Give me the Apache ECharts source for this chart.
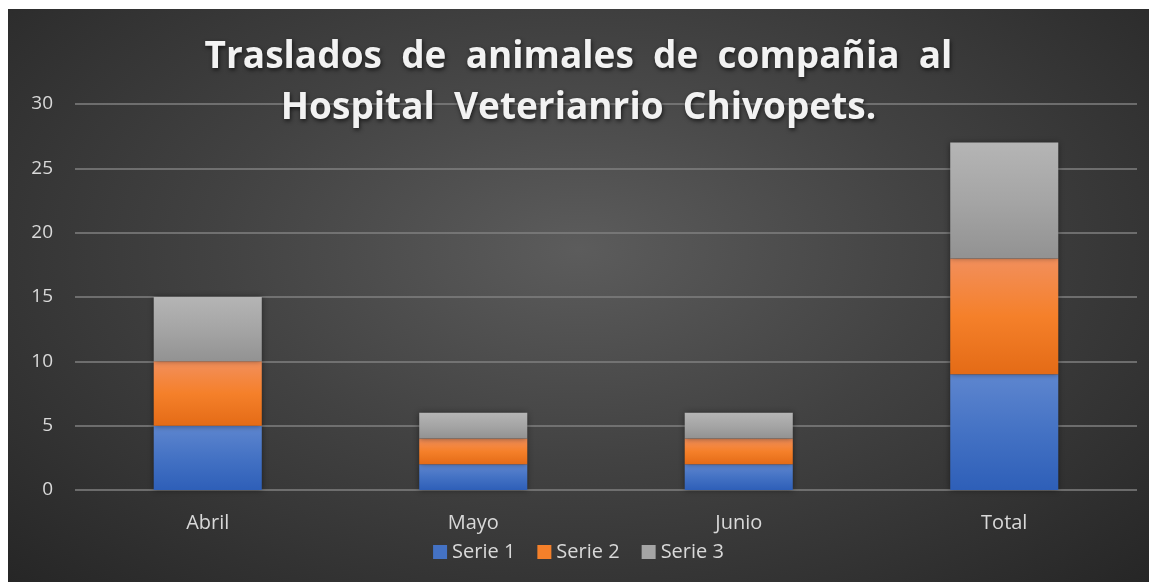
<!DOCTYPE html>
<html>
<head>
<meta charset="utf-8">
<script src="https://cdn.jsdelivr.net/npm/echarts@6/dist/echarts.min.js"></script>
<style>
  html, body { margin: 0; padding: 0; background: #ffffff; }
  #chart {
    position: absolute; left: 8px; top: 9px; width: 1141px; height: 573px;
    background: radial-gradient(ellipse at 50% 42%, #5c5c5c 0%, #424242 45%, #262626 100%);
  }
</style>
</head>
<body>
<div id="chart"></div>
<script>
// chart data
const categories = ['Abril', 'Mayo', 'Junio', 'Total'];
const serieNames = ['Serie 1', 'Serie 2', 'Serie 3'];
const serie1 = [5, 2, 2, 9];
const serie2 = [5, 2, 2, 9];
const serie3 = [5, 2, 2, 9];
const yTicks = [0, 5, 10, 15, 20, 25, 30];

const font = '"Open Sans", "Noto Sans", sans-serif';

function grad(top, mid, bottom) {
  return new echarts.graphic.LinearGradient(0, 0, 0, 1, [
    { offset: 0, color: top },
    { offset: 0.5, color: mid },
    { offset: 1, color: bottom }
  ]);
}

const fills = [
  grad('#5e86cf', '#4472c4', '#2e5fb8'),
  grad('#f28f5c', '#f5802a', '#e46b16'),
  grad('#b5b5b5', '#a5a5a5', '#929292')
];
const legendColors = ['#4472c4', '#f5802a', '#a5a5a5'];
const values = [serie1, serie2, serie3];

const chart = echarts.init(document.getElementById('chart'), null, { renderer: 'canvas' });

const option = {
  animation: false,
  title: {
    text: 'Traslados  de  animales  de  compañia  al\nHospital  Veterianrio  Chivopets.',
    left: 'center',
    top: 18,
    textStyle: {
      fontFamily: font,
      fontWeight: 'bold',
      fontSize: 37,
      lineHeight: 51,
      color: '#f2f2f2',
      textShadowColor: 'rgba(0,0,0,0.65)',
      textShadowBlur: 4,
      textShadowOffsetX: 1,
      textShadowOffsetY: 2
    }
  },
  legend: {
    data: serieNames.map((n, i) => ({ name: n, itemStyle: { color: legendColors[i] } })),
    bottom: 15,
    left: 'center',
    icon: 'rect',
    itemWidth: 14,
    itemHeight: 14,
    itemGap: 22,
    textStyle: { fontFamily: font, fontSize: 20, color: '#d9d9d9' }
  },
  grid: { left: 67, right: 12, top: 95, bottom: 92, containLabel: false },
  xAxis: {
    type: 'category',
    data: categories,
    axisLine: { show: false },
    axisTick: { show: false },
    axisLabel: { fontFamily: font, fontSize: 20, color: '#d9d9d9', margin: 23 }
  },
  yAxis: {
    type: 'value',
    min: yTicks[0],
    max: yTicks[yTicks.length - 1],
    interval: 5,
    axisLine: { show: false },
    axisTick: { show: false },
    axisLabel: { fontFamily: font, fontSize: 19, color: '#d9d9d9', margin: 22 },
    splitLine: { lineStyle: { color: '#808080', width: 1.5 } }
  },
  series: serieNames.map((name, i) => ({
    name: name,
    type: 'bar',
    stack: 'total',
    barWidth: '40.7%',
    data: values[i],
    itemStyle: {
      color: fills[i],
      shadowColor: 'rgba(0,0,0,0.45)',
      shadowBlur: 6
    }
  }))
};

chart.setOption(option);
window.addEventListener('resize', chart.resize);
</script>
</body>
</html>
